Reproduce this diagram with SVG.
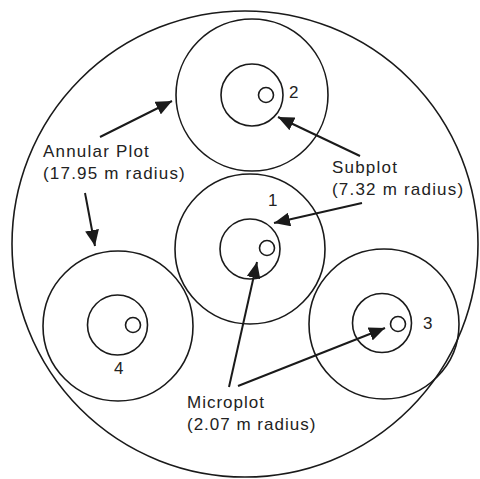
<svg xmlns="http://www.w3.org/2000/svg" width="480" height="479" viewBox="0 0 480 479">
<style>
.c{fill:none;stroke:#1a1a1a;stroke-width:1.6}
.a{fill:none;stroke:#1a1a1a;stroke-width:2;marker-end:url(#ah)}
.t{font-family:"Liberation Sans",Arial,sans-serif;font-size:17px;fill:#222;letter-spacing:1.2px}
.n{font-family:"Liberation Sans",Arial,sans-serif;font-size:17px;fill:#222}
</style>
<defs>
<marker id="ah" markerUnits="userSpaceOnUse" markerWidth="18" markerHeight="14" refX="16" refY="7" orient="auto">
<path d="M0,0 L16,7 L0,14 Z" fill="#1a1a1a"/>
</marker>
</defs>
<rect width="480" height="479" fill="#fff"/>
<circle id="outer" class="c" cx="245" cy="244" r="233"/>
<g id="plot1">
<circle class="c" cx="250" cy="249" r="75"/>
<circle class="c" cx="250" cy="249" r="30"/>
<circle class="c" cx="267" cy="248" r="7.5"/>
<text class="n" x="268" y="206">1</text>
</g>
<g id="plot2">
<circle class="c" cx="252" cy="95" r="76"/>
<circle class="c" cx="252" cy="95" r="31"/>
<circle class="c" cx="266" cy="95" r="7.5"/>
<text class="n" x="289" y="98">2</text>
</g>
<g id="plot3">
<circle class="c" cx="384" cy="324" r="75"/>
<circle class="c" cx="382" cy="323" r="29.5"/>
<circle class="c" cx="398" cy="324" r="7.5"/>
<text class="n" x="423" y="329">3</text>
</g>
<g id="plot4">
<circle class="c" cx="118" cy="326" r="75"/>
<circle class="c" cx="117.5" cy="325" r="30"/>
<circle class="c" cx="133" cy="325" r="7.5"/>
<text class="n" x="114" y="374">4</text>
</g>
<g id="labels">
<text class="t" x="43" y="157">Annular Plot</text>
<text class="t" x="43" y="179">(17.95 m radius)</text>
<text class="t" x="332" y="173">Subplot</text>
<text class="t" x="332" y="195">(7.32 m radius)</text>
<text class="t" x="187" y="408" style="letter-spacing:1px">Microplot</text>
<text class="t" x="187" y="430" style="letter-spacing:1px">(2.07 m radius)</text>
</g>
<g id="connectors">
<line class="a" x1="100" y1="137" x2="172" y2="101"/>
<line class="a" x1="85" y1="193" x2="95" y2="246"/>
<line class="a" x1="360" y1="156" x2="278" y2="117"/>
<line class="a" x1="362" y1="203" x2="274" y2="223"/>
<line class="a" x1="229" y1="387" x2="257" y2="262"/>
<line class="a" x1="238" y1="386" x2="385" y2="328"/>
</g>
</svg>
